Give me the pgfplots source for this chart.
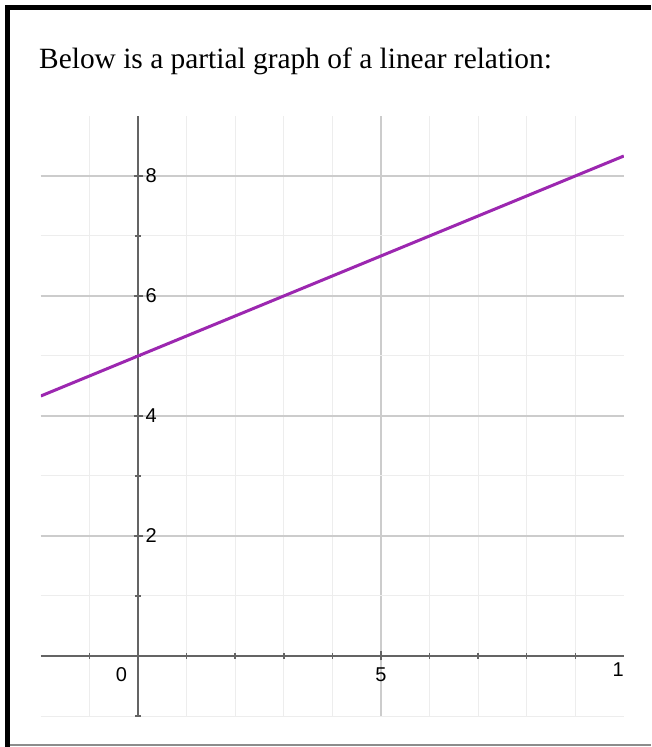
\documentclass[border=0pt]{standalone}
\usepackage{fontspec}
\setmainfont{Liberation Serif}
\newfontfamily\tickfont{Liberation Sans}
\usepackage{pgfplots}
\pgfplotsset{compat=1.18}
\definecolor{lineviolet}{RGB}{156,39,176}
\definecolor{axisgray}{RGB}{100,100,100}

\begin{document}
\begin{tikzpicture}[x=1pt,y=1pt]
  \path[use as bounding box, fill=white] (0,0) rectangle (651,747);

  \node[anchor=base west, inner sep=0pt] at (39,678)
    {\fontsize{29.4}{35}\selectfont Below is a partial graph of a linear relation:};

  \begin{axis}[
      at={(138pt,91pt)}, anchor=origin,
      scale only axis,
      width=583pt, height=600pt,
      xmin=-2, xmax=10,
      ymin=-1, ymax=9,
      axis lines=middle,
      axis line style={-, draw=axisgray, line width=2.5pt},
      hide obscured x ticks=false,
      hide obscured y ticks=false,
      xtick={0,5},
      xticklabels={\makebox[0pt][r]{0\hspace{11pt}}, 5},
      extra x ticks={10},
      extra x tick labels={\makebox[0pt][r]{1}},
      extra x tick style={grid=none, major tick length=0pt},
      minor xtick={-1,...,9},
      ytick={2,4,6,8},
      yticklabels={2,4,6,8},
      minor ytick={-1,...,8},
      grid=both,
      minor grid style={draw=black!7, line width=1pt},
      major grid style={draw=black!20, line width=1.5pt},
      tick align=center,
      major tick length=9pt,
      minor tick length=6pt,
      tick style={draw=axisgray, line width=1.5pt},
      ticklabel style={font=\tickfont\fontsize{20}{23}\selectfont, text=black},
      xticklabel style={anchor=north, inner sep=0pt, yshift=-7pt},
      yticklabel style={anchor=west, inner sep=0pt, xshift=12pt},
      clip=true,
    ]
    \addplot[color=lineviolet, line width=3pt] coordinates {
      (-2, 4.3333) (10, 8.3333)
    };
  \end{axis}

  % frame of the worksheet card
  \draw[line width=5pt, black] (7.5,0) -- (7.5,739.5);
  \draw[line width=5pt, black] (5,739.5) -- (651,739.5);
  \draw[line width=2pt, black!45] (10,1.5) -- (651,1.5);
\end{tikzpicture}
\end{document}
